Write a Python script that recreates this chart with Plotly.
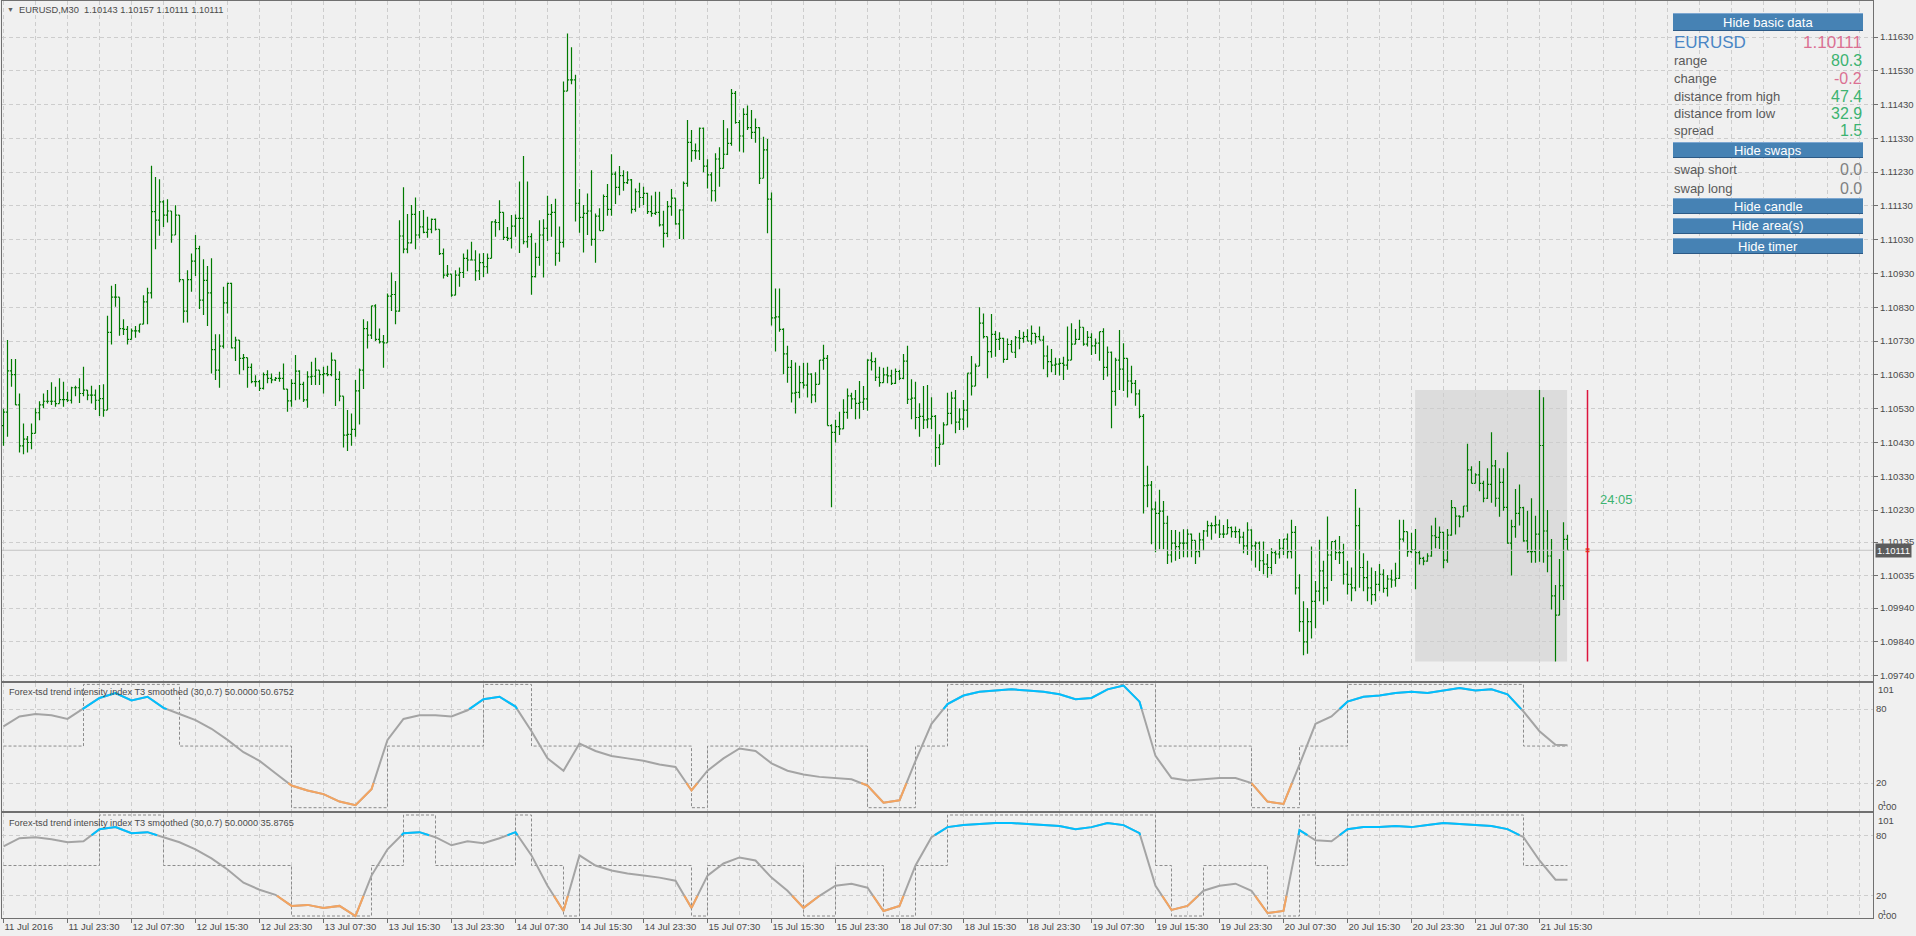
import plotly.graph_objects as go

# ---------------- data (prices in points above 1.09000, 1 point = 0.00001) ----------------
BASE = 1.09
PT = 1e-5
FIRST_OPEN = 1480

HIGH_PTS = [
    1530, 1733, 1677, 1677, 1575, 1486, 1449, 1486, 1531, 1552,
    1575, 1585, 1608, 1595, 1620, 1610, 1580, 1595, 1598, 1620,
    1654, 1585, 1598, 1587, 1600, 1602, 1805, 1894, 1899, 1860,
    1795, 1775, 1767, 1775, 1775, 1866, 1888, 2249, 2216, 2209,
    2147, 2150, 2115, 2132, 2103, 1912, 1940, 1989, 2044, 2012,
    1972, 1952, 1975, 1750, 1750, 1891, 1903, 1903, 1743, 1733,
    1692, 1681, 1664, 1629, 1615, 1637, 1644, 1634, 1624, 1639,
    1664, 1588, 1617, 1689, 1644, 1610, 1641, 1669, 1681, 1644,
    1654, 1657, 1696, 1674, 1641, 1567, 1526, 1516, 1615, 1649,
    1795, 1789, 1835, 1839, 1767, 1748, 1871, 1933, 1908, 2088,
    2185, 2106, 2133, 2155, 2115, 2118, 2098, 2093, 2093, 2061,
    2004, 1955, 1928, 1940, 1948, 1989, 2001, 2024, 1999, 1989,
    1991, 1989, 2085, 2091, 2147, 2111, 2068, 2103, 2105, 2202,
    2278, 2202, 2049, 2021, 2088, 2091, 2160, 2136, 2151, 2069,
    2498, 2640, 2600, 2518, 2180, 2133, 2167, 2236, 2108, 2123,
    2164, 2195, 2283, 2232, 2248, 2236, 2233, 2210, 2182, 2199,
    2187, 2169, 2161, 2172, 2172, 2116, 2145, 2180, 2153, 2120,
    2202, 2384, 2355, 2315, 2362, 2362, 2268, 2230, 2286, 2304,
    2384, 2360, 2476, 2470, 2384, 2419, 2427, 2414, 2389, 2363,
    2335, 2328, 2170, 1886, 1886, 1768, 1716, 1674, 1667, 1657,
    1666, 1666, 1635, 1638, 1674, 1719, 1689, 1484, 1497, 1521,
    1558, 1590, 1577, 1585, 1612, 1597, 1676, 1697, 1681, 1654,
    1651, 1654, 1645, 1649, 1645, 1692, 1716, 1617, 1610, 1546,
    1597, 1600, 1564, 1511, 1454, 1490, 1577, 1580, 1585, 1531,
    1556, 1635, 1686, 1664, 1830, 1812, 1743, 1810, 1760, 1756,
    1740, 1738, 1733, 1745, 1763, 1758, 1765, 1776, 1753, 1773,
    1746, 1717, 1707, 1681, 1679, 1684, 1773, 1783, 1766, 1793,
    1771, 1760, 1753, 1738, 1758, 1768, 1714, 1699, 1681, 1763,
    1724, 1679, 1657, 1615, 1587, 1514, 1361, 1316, 1255, 1290,
    1257, 1213, 1171, 1171, 1166, 1173, 1173, 1161, 1140, 1163,
    1171, 1198, 1193, 1213, 1201, 1186, 1203, 1181, 1181, 1175,
    1166, 1194, 1173, 1137, 1137, 1137, 1100, 1117, 1112, 1144,
    1144, 1161, 1201, 1183, 1040, 960, 940, 1122, 1020, 1142,
    1080, 1211, 1137, 1142, 1153, 1130, 1080, 1060, 1292, 1237,
    1102, 1080, 1060, 1050, 1070, 1055, 1038, 1053, 1074, 1201,
    1201, 1166, 1163, 1174, 1110, 1092, 1102, 1184, 1207, 1181,
    1166, 1174, 1260, 1237, 1215, 1242, 1426, 1360, 1339, 1375,
    1317, 1354, 1460, 1378, 1354, 1354, 1401, 1201, 1292, 1306,
    1240, 1228, 1265, 1213, 1585, 1564, 1230, 1144, 1008, 1085,
    1194, 1157,
]
LOW_PTS = [
    1420, 1447, 1595, 1541, 1400, 1395, 1400, 1410, 1457, 1496,
    1531, 1545, 1541, 1536, 1545, 1536, 1550, 1545, 1567, 1547,
    1567, 1555, 1545, 1526, 1508, 1506, 1526, 1720, 1832, 1746,
    1748, 1720, 1735, 1740, 1755, 1780, 1780, 1856, 2002, 2042,
    2068, 2081, 2021, 2044, 1904, 1784, 1785, 1876, 1923, 1825,
    1807, 1775, 1634, 1615, 1592, 1708, 1812, 1708, 1671, 1631,
    1644, 1592, 1605, 1595, 1582, 1587, 1605, 1605, 1612, 1610,
    1587, 1521, 1536, 1555, 1557, 1550, 1533, 1600, 1600, 1600,
    1575, 1626, 1626, 1538, 1552, 1415, 1405, 1420, 1447, 1483,
    1588, 1708, 1736, 1730, 1723, 1651, 1725, 1819, 1780, 1817,
    1990, 1990, 2019, 2002, 2034, 2049, 2036, 2049, 2057, 1985,
    1915, 1920, 1861, 1866, 1891, 1917, 1937, 1970, 1909, 1911,
    1920, 1930, 1975, 2039, 2058, 2029, 2026, 2004, 2039, 1991,
    2017, 2006, 1867, 1918, 1953, 1918, 2026, 2039, 1953, 1965,
    2007, 2470, 2490, 2084, 2051, 1992, 2044, 2012, 1962, 2057,
    2057, 2101, 2101, 2136, 2162, 2175, 2195, 2108, 2113, 2125,
    2133, 2106, 2098, 2103, 2069, 2007, 2037, 2101, 2074, 2032,
    2032, 2187, 2261, 2268, 2266, 2230, 2182, 2143, 2143, 2187,
    2241, 2281, 2308, 2373, 2291, 2288, 2355, 2328, 2317, 2195,
    2212, 2049, 1776, 1699, 1758, 1632, 1607, 1548, 1516, 1561,
    1590, 1563, 1546, 1549, 1602, 1645, 1480, 1238, 1430, 1452,
    1470, 1500, 1529, 1499, 1500, 1526, 1524, 1643, 1612, 1595,
    1607, 1605, 1600, 1603, 1615, 1617, 1544, 1499, 1469, 1447,
    1470, 1472, 1470, 1358, 1363, 1425, 1482, 1484, 1457, 1467,
    1467, 1474, 1569, 1597, 1656, 1738, 1620, 1681, 1684, 1704,
    1666, 1674, 1697, 1680, 1706, 1725, 1730, 1719, 1723, 1733,
    1647, 1623, 1638, 1630, 1628, 1615, 1645, 1674, 1721, 1733,
    1716, 1714, 1689, 1692, 1672, 1615, 1625, 1472, 1539, 1585,
    1582, 1563, 1576, 1539, 1502, 1220, 1238, 1129, 1105, 1114,
    1114, 1070, 1075, 1080, 1085, 1090, 1090, 1090, 1070, 1090,
    1110, 1151, 1142, 1161, 1147, 1147, 1159, 1149, 1147, 1130,
    1102, 1097, 1080, 1060, 1050, 1040, 1030, 1040, 1070, 1087,
    1097, 1087, 1087, 980, 870, 800, 805, 850, 880, 960,
    950, 960, 1020, 1082, 1070, 1010, 980, 960, 990, 1000,
    990, 960, 950, 960, 990, 985, 974, 1000, 1003, 1026,
    1136, 1092, 1102, 996, 1069, 1067, 1077, 1092, 1117, 1115,
    1058, 1074, 1154, 1158, 1179, 1209, 1225, 1309, 1309, 1286,
    1253, 1263, 1252, 1240, 1210, 1228, 1130, 1036, 1148, 1184,
    1136, 1104, 1074, 1074, 1077, 1074, 1046, 936, 782, 919,
    964, 1111,
]
CLOSE_PTS = [
    1520, 1642, 1631, 1541, 1420, 1440, 1430, 1457, 1518, 1541,
    1552, 1552, 1552, 1545, 1557, 1557, 1555, 1592, 1592, 1575,
    1585, 1570, 1570, 1555, 1560, 1526, 1756, 1860, 1860, 1767,
    1765, 1735, 1760, 1760, 1780, 1846, 1873, 2113, 2088, 2142,
    2103, 2115, 2044, 2103, 1912, 1819, 1912, 1967, 2004, 1851,
    1910, 1873, 1705, 1644, 1715, 1843, 1901, 1710, 1733, 1679,
    1681, 1652, 1610, 1610, 1590, 1631, 1620, 1615, 1620, 1620,
    1588, 1553, 1605, 1641, 1602, 1556, 1624, 1626, 1644, 1631,
    1634, 1631, 1674, 1617, 1567, 1452, 1454, 1469, 1583, 1644,
    1767, 1748, 1834, 1735, 1728, 1725, 1863, 1868, 1819, 2041,
    2002, 2021, 2105, 2044, 2068, 2052, 2061, 2090, 2061, 1989,
    1925, 1928, 1866, 1925, 1933, 1975, 1970, 1970, 1938, 1962,
    1950, 1975, 2083, 2081, 2111, 2037, 2034, 2070, 2093, 2093,
    2024, 2039, 1921, 1978, 2044, 2064, 2105, 2111, 1990, 2022,
    2470, 2503, 2503, 2138, 2096, 2108, 2115, 2031, 2100, 2057,
    2158, 2120, 2224, 2185, 2220, 2199, 2207, 2120, 2172, 2155,
    2167, 2113, 2108, 2111, 2074, 2049, 2128, 2153, 2077, 2118,
    2197, 2318, 2294, 2293, 2360, 2248, 2222, 2175, 2269, 2241,
    2283, 2315, 2463, 2377, 2337, 2401, 2362, 2348, 2362, 2212,
    2296, 2150, 1799, 1802, 1765, 1692, 1652, 1576, 1578, 1607,
    1600, 1632, 1571, 1602, 1674, 1679, 1480, 1460, 1477, 1470,
    1519, 1568, 1559, 1546, 1549, 1559, 1674, 1669, 1623, 1607,
    1630, 1627, 1605, 1640, 1620, 1671, 1558, 1561, 1504, 1507,
    1497, 1500, 1507, 1415, 1425, 1482, 1516, 1561, 1490, 1499,
    1526, 1635, 1597, 1656, 1783, 1743, 1699, 1750, 1735, 1738,
    1676, 1720, 1697, 1740, 1738, 1743, 1730, 1753, 1743, 1733,
    1686, 1669, 1659, 1662, 1664, 1659, 1674, 1721, 1735, 1771,
    1721, 1741, 1716, 1724, 1758, 1652, 1697, 1581, 1674, 1647,
    1679, 1612, 1605, 1574, 1507, 1302, 1304, 1233, 1220, 1227,
    1191, 1097, 1132, 1122, 1132, 1132, 1159, 1140, 1107, 1142,
    1168, 1184, 1184, 1186, 1159, 1159, 1178, 1166, 1166, 1150,
    1124, 1171, 1124, 1132, 1080, 1070, 1060, 1104, 1100, 1117,
    1144, 1107, 1164, 1000, 900, 840, 900, 960, 990, 1050,
    1000, 1097, 1137, 1104, 1104, 1040, 1010, 1000, 1184, 1060,
    1030, 1000, 980, 1010, 1040, 998, 1026, 1023, 1028, 1144,
    1166, 1107, 1112, 1104, 1087, 1079, 1094, 1154, 1149, 1164,
    1082, 1156, 1237, 1212, 1210, 1242, 1349, 1309, 1334, 1309,
    1265, 1306, 1361, 1265, 1312, 1238, 1132, 1181, 1220, 1237,
    1139, 1107, 1107, 1159, 1421, 1168, 1094, 976, 919, 1006,
    1143, 1111,
]

PRICE_TICKS = [1.11630, 1.11530, 1.11430, 1.11330, 1.11230, 1.11130, 1.11030, 1.10930,
               1.10830, 1.10730, 1.10630, 1.10530, 1.10430, 1.10330, 1.10230, 1.10135,
               1.10035, 1.09940, 1.09840, 1.09740]

TIME_LABELS = ["11 Jul 2016", "11 Jul 23:30", "12 Jul 07:30", "12 Jul 15:30", "12 Jul 23:30",
               "13 Jul 07:30", "13 Jul 15:30", "13 Jul 23:30", "14 Jul 07:30", "14 Jul 15:30",
               "14 Jul 23:30", "15 Jul 07:30", "15 Jul 15:30", "15 Jul 23:30", "18 Jul 07:30",
               "18 Jul 15:30", "18 Jul 23:30", "19 Jul 07:30", "19 Jul 15:30", "19 Jul 23:30",
               "20 Jul 07:30", "20 Jul 15:30", "20 Jul 23:30", "21 Jul 07:30", "21 Jul 15:30"]
BARS_PER_LABEL = 16

# trend intensity index samples (every 4th bar, plus the last bar)
IND_BARS = list(range(0, 389, 4)) + [391]
TII_1 = [66, 74, 76, 75, 72, 80.5, 89, 93, 87, 90, 81, 76, 71, 64, 55, 45, 38, 28, 18, 14,
         11, 5, 2, 15, 55, 72, 75, 75, 74, 79, 88, 90, 82, 62, 40, 30, 52, 46, 42, 40,
         38, 35, 33, 14, 30, 40, 48, 46, 36, 30, 27, 25, 24, 23, 18, 4, 6, 38, 68, 84,
         91, 94, 95, 96, 95, 94, 92, 88, 89, 96, 99, 86, 42, 24, 22, 23, 24, 24, 20, 5,
         3, 35, 68, 74, 86, 90, 91, 93, 94, 93, 95, 97, 95, 96, 92, 78, 62, 51, 50.6752]
TII_2 = [69, 77, 78, 76, 73, 74, 86, 88, 82, 83, 78, 73, 66, 57, 46, 33, 26, 21, 10, 11,
         8, 10, 0, 40, 66, 82, 83, 78, 70, 74, 72, 77, 83, 60, 30, 5, 60, 50, 45, 42,
         40, 38, 35, 8, 40, 52, 58, 55, 38, 25, 8, 20, 30, 32, 28, 5, 10, 50, 78, 88,
         90, 91, 92, 92, 91, 90, 89, 86, 88, 92, 90, 82, 30, 6, 10, 25, 30, 32, 25, 3,
         5, 85, 75, 74, 86, 88, 88, 89, 88, 90, 92, 91, 90, 89, 86, 78, 55, 36, 35.8765]

DAY_START_BAR = 353
TIMER_BAR = 396
CUR_OHLC = "1.10143 1.10157 1.10111 1.10111"
CUR_PRICE = 1.10111

# ---------------- geometry ----------------
W, H = 1916, 936
LM, RM, TM, BM = 2, 43, 1, 18
PW, PH = W - LM - RM, H - TM - BM


def px(X):
    return (X - LM) / PW


def py(Y):
    return (H - BM - Y) / PH


BAR_PX = 4.0
BAR0_X = 3.5
XMIN = (LM - BAR0_X) / BAR_PX
XMAX = (W - RM - BAR0_X) / BAR_PX
PX_PER_PRICE = 33790.0
PRICE_TOP = 1.11630 + (37 - TM) / PX_PER_PRICE
PRICE_BOT = 1.11630 - (681 - 37) / PX_PER_PRICE

FONT = "Liberation Sans, Arial, sans-serif"
TXT = "#4A4A4A"
AX = "#707070"
GRID = "#CDCDCD"
DASH = "4px,3px"
BG = "#F0F0F0"
BAR_COL = "#007A00"

# ---------------- build series ----------------
n = len(CLOSE_PTS)
xs = list(range(n))
close = [BASE + c * PT for c in CLOSE_PTS]
opens = [BASE + FIRST_OPEN * PT] + close[:-1]
high = [max(BASE + h * PT, o, c) for h, o, c in zip(HIGH_PTS, opens, close)]
low = [min(BASE + l * PT, o, c) for l, o, c in zip(LOW_PTS, opens, close)]

day_hi = max(high[DAY_START_BAR:])
day_lo = min(low[DAY_START_BAR:])

fig = go.Figure()
fig.add_trace(go.Ohlc(
    x=xs, open=opens, high=high, low=low, close=close,
    increasing=dict(line=dict(color=BAR_COL, width=1.2)),
    decreasing=dict(line=dict(color=BAR_COL, width=1.2)),
    tickwidth=0.4, hoverinfo="skip", xaxis="x", yaxis="y", showlegend=False))


def colored_pieces(bx, vals, hi=80, lo=20):
    pts = [(bx[0], vals[0])]
    for i in range(1, len(bx)):
        x0, v0, x1, v1 = bx[i - 1], vals[i - 1], bx[i], vals[i]
        cuts = []
        for t in (hi, lo):
            if (v0 - t) * (v1 - t) < 0:
                f = (t - v0) / (v1 - v0)
                cuts.append((x0 + f * (x1 - x0), t))
        cuts.sort()
        pts.extend(cuts)
        pts.append((x1, v1))
    out = {"b": ([], []), "o": ([], [])}
    for (xa, va), (xb, vb) in zip(pts[:-1], pts[1:]):
        m = (va + vb) / 2
        key = "b" if m >= hi else ("o" if m <= lo else None)
        if key is None:
            continue
        X, Y = out[key]
        if X and X[-1] == xa and Y[-1] == va:
            X.append(xb)
            Y.append(vb)
        else:
            if X:
                X.append(None)
                Y.append(None)
            X.extend([xa, xb])
            Y.extend([va, vb])
    return out


def state_line(vals, hi=80, lo=20):
    return [100 if v >= hi else (0 if v <= lo else 50) for v in vals]


for vals, xa, ya in ((TII_1, "x2", "y2"), (TII_2, "x3", "y3")):
    fig.add_trace(go.Scatter(x=IND_BARS, y=state_line(vals), mode="lines", line_shape="hv",
                             line=dict(color="#8C8C8C", width=1, dash="3px,2px"),
                             hoverinfo="skip", xaxis=xa, yaxis=ya, showlegend=False))
    fig.add_trace(go.Scatter(x=IND_BARS, y=vals, mode="lines", line=dict(color="#A4A4A4", width=2),
                             hoverinfo="skip", xaxis=xa, yaxis=ya, showlegend=False))
    pieces = colored_pieces(IND_BARS, vals)
    for key, col in (("b", "#00BFFF"), ("o", "#F4A460")):
        X, Y = pieces[key]
        fig.add_trace(go.Scatter(x=X, y=Y, mode="lines", line=dict(color=col, width=2),
                                 connectgaps=False, hoverinfo="skip", xaxis=xa, yaxis=ya,
                                 showlegend=False))

# marker at current price on the timer line
fig.add_trace(go.Scatter(x=[TIMER_BAR], y=[CUR_PRICE], mode="markers",
                         marker=dict(symbol="square", size=4, color="#FF4500"),
                         hoverinfo="skip", xaxis="x", yaxis="y", showlegend=False))

label_bars = [i * BARS_PER_LABEL for i in range(len(TIME_LABELS))]

xcommon = dict(range=[XMIN, XMAX], showgrid=True, gridcolor=GRID, griddash=DASH, gridwidth=1,
               tickvals=label_bars, showline=True, mirror=True, linecolor=AX, linewidth=1,
               zeroline=False, fixedrange=True,
               minor=dict(dtick=8, tick0=0, showgrid=True, gridcolor=GRID, griddash=DASH,
                          gridwidth=1, ticks=""))

shapes = []
# day range area
shapes.append(dict(type="rect", xref="x", yref="y", x0=DAY_START_BAR - 0.1, x1=n - 1 - 0.1,
                   y0=day_lo, y1=day_hi, fillcolor="#DCDCDC", line=dict(width=0), layer="below"))
# current price line
shapes.append(dict(type="line", xref="x", yref="y", x0=XMIN, x1=XMAX, y0=CUR_PRICE, y1=CUR_PRICE,
                   line=dict(color="#C4C4C4", width=1)))
# timer line
shapes.append(dict(type="line", xref="x", yref="y", x0=TIMER_BAR, x1=TIMER_BAR, y0=day_lo, y1=day_hi,
                   line=dict(color="#DC143C", width=1.5)))

annotations = []


def text(X, Y, s, size, color, anchor="left", vanchor="middle", bg=None):
    d = dict(xref="paper", yref="paper", x=px(X), y=py(Y), text=s, showarrow=False,
             xanchor=anchor, yanchor=vanchor, font=dict(family=FONT, size=size, color=color))
    if bg:
        d.update(bgcolor=bg, borderpad=1)
    annotations.append(d)


# title
text(5, 10, "▼", 7, "#606060")
text(17, 10, "EURUSD,M30  " + CUR_OHLC, 9.3, TXT)
text(7, 692, "Forex-tsd trend intensity index T3 smoothed (30,0.7) 50.0000 "
     + f"{TII_1[-1]:.4f}", 9.2, TXT)
text(7, 822.5, "Forex-tsd trend intensity index T3 smoothed (30,0.7) 50.0000 "
     + f"{TII_2[-1]:.4f}", 9.2, TXT)

# price box
text(1875, 550.5, f"{CUR_PRICE:.5f}", 9.5, "#FFFFFF", bg="#5C5C5C")

# indicator extreme labels
for ytop, ybot in ((689.5, 806.5), (820, 915)):
    text(1876, ytop, "101", 9.5, TXT)
    text(1876, ybot, "0.00", 9.5, TXT)
    text(1880, ybot - 3, "1", 8, TXT)

# timer text
text(1598, 499, "24:05", 13, "#3CB371")

# info panel
BTN = [("Hide basic data", 13, 31), ("Hide swaps", 142, 158), ("Hide candle", 198, 214),
       ("Hide area(s)", 218, 234), ("Hide timer", 238, 254)]
for lab, y0, y1 in BTN:
    shapes.append(dict(type="rect", xref="paper", yref="paper", x0=px(1673), x1=px(1863),
                       y0=py(y1), y1=py(y0), fillcolor="#4682B4", line=dict(width=0)))
    shapes.append(dict(type="line", xref="paper", yref="paper", x0=px(1673), x1=px(1863),
                       y0=py(y0 + 0.5), y1=py(y0 + 0.5), line=dict(color="#7DA7D1", width=1)))
    shapes.append(dict(type="line", xref="paper", yref="paper", x0=px(1673), x1=px(1863),
                       y0=py(y1 - 0.5), y1=py(y1 - 0.5), line=dict(color="#2C5A86", width=1)))
    text(1768, (y0 + y1) / 2, lab, 13, "#FFFFFF", anchor="center")

GREEN, PINK, GRAYV, LAB = "#3CB371", "#DB7093", "#808080", "#5A5A5A"
text(1672, 42.5, "EURUSD", 17, "#4A86C5")
text(1864, 42.5, f"{CUR_PRICE:.5f}", 17, PINK, anchor="right")
ROWS = [("range", "80.3", GREEN, 60.5), ("change", "-0.2", PINK, 78),
        ("distance from high", "47.4", GREEN, 96), ("distance from low", "32.9", GREEN, 113.5),
        ("spread", "1.5", GREEN, 131), ("swap short", "0.0", GRAYV, 170),
        ("swap long", "0.0", GRAYV, 188)]
for lab, val, col, yy in ROWS:
    text(1672, yy, lab, 13, LAB)
    text(1864, yy, val, 16, col, anchor="right")

fig.update_layout(
    width=W, height=H, margin=dict(l=LM, r=RM, t=TM, b=BM),
    paper_bgcolor=BG, plot_bgcolor=BG, hovermode=False, showlegend=False,
    font=dict(family=FONT, size=10, color=TXT),
    xaxis=dict(**xcommon, anchor="y", showticklabels=False, ticks="",
               rangeslider=dict(visible=False)),
    xaxis2=dict(**xcommon, anchor="y2", matches="x", showticklabels=False, ticks=""),
    xaxis3=dict(**xcommon, anchor="y3", matches="x", ticktext=TIME_LABELS, ticks="outside",
                ticklen=4, tickcolor=AX, ticklabelposition="outside right",
                tickfont=dict(family=FONT, size=9.5, color=TXT)),
    yaxis=dict(domain=[py(681), 1.0], range=[PRICE_BOT, PRICE_TOP], side="right",
               tickvals=PRICE_TICKS, ticktext=[f"{v:.5f}" for v in PRICE_TICKS],
               ticks="outside", ticklen=4, tickcolor=AX, showgrid=True, gridcolor=GRID,
               griddash=DASH, showline=True, mirror=True, linecolor=AX, zeroline=False,
               tickfont=dict(family=FONT, size=9.5, color=TXT), fixedrange=True),
    yaxis2=dict(domain=[py(811), py(683)], range=[(807.7 - 811) / 1.233, (807.7 - 683) / 1.233],
                side="right", tickvals=[80, 20], ticktext=["80", "20"], ticks="",
                showgrid=True, gridcolor=GRID, griddash=DASH, showline=True, mirror=True,
                linecolor=AX, zeroline=False, tickfont=dict(family=FONT, size=9.5, color=TXT),
                fixedrange=True),
    yaxis3=dict(domain=[0.0, py(813)], range=[(916 - 918) / 1.01, (916 - 813) / 1.01],
                side="right", tickvals=[80, 20], ticktext=["80", "20"], ticks="",
                showgrid=True, gridcolor=GRID, griddash=DASH, showline=True, mirror=True,
                linecolor=AX, zeroline=False, tickfont=dict(family=FONT, size=9.5, color=TXT),
                fixedrange=True),
    shapes=shapes, annotations=annotations,
)

fig.write_html("out.html", config={"displayModeBar": False},
               post_script="document.body.style.margin='0px';document.body.style.overflow='hidden';")
